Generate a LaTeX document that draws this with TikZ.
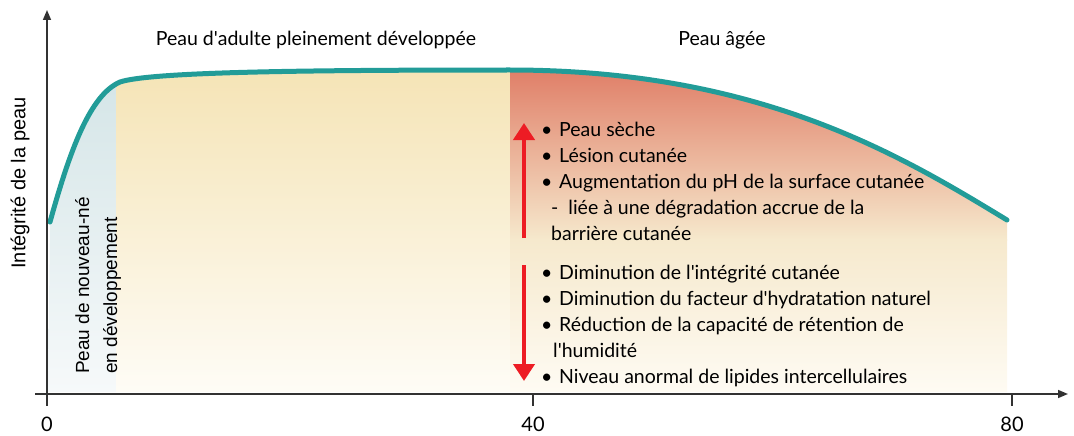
\documentclass[tikz,border=0pt]{standalone}
\usepackage{fontspec}
\setmainfont{Lato}
\newfontfamily\arialfont{Liberation Sans}
\usetikzlibrary{arrows.meta}
\definecolor{tealline}{RGB}{34,156,152}
\definecolor{redarrow}{RGB}{237,28,36}
\definecolor{axisgray}{RGB}{50,50,50}
\definecolor{babytop}{RGB}{212,229,231}
\definecolor{babybot}{RGB}{246,249,250}
\definecolor{adulttop}{RGB}{245,228,182}
\definecolor{adultbot}{RGB}{254,252,246}
\definecolor{oldtop}{RGB}{224,127,104}
\definecolor{oldmid}{RGB}{238,188,160}
\definecolor{oldlow}{RGB}{246,233,205}
\definecolor{oldbot}{RGB}{254,251,243}
\tikzset{
    curveline/.style={draw=tealline, line width=5pt, line cap=round},
    axisline/.style={draw=axisgray, line width=1.5pt, -{Triangle[length=10pt,width=8pt]}},
    tickline/.style={draw=axisgray, line width=1.2pt},
    trend/.style={draw=redarrow, line width=4pt, -{Triangle[length=17pt,width=21pt]}},
    phase/.style={font=\fontsize{19.5}{22}\selectfont},
    ticklabel/.style={font=\fontsize{20}{22}\selectfont},
    bullets/.style={font=\fontsize{19.5}{26}\selectfont, align=left, inner sep=0pt, anchor=north west},
}
\newcommand{\bul}{\makebox[18pt][l]{\textbullet}}
\newcommand{\ap}{\textquotesingle}

\begin{document}
\begin{tikzpicture}[x=1pt,y=-1pt]
    \useasboundingbox (0,0) rectangle (1074,436);

    % areas under the curve
    \begin{scope}
    \clip (48,392) -- (50,222) .. controls (70,150) and (90,95) .. (120,82)
        .. controls (150,72) and (300,70) .. (510,70)
        .. controls (760,70) and (900,155) .. (1007,220) -- (1007,392) -- cycle;
    \shade[top color=babytop, bottom color=babybot] (48,70) rectangle (116,392);
    \shade[top color=adulttop, bottom color=adultbot] (116,70) rectangle (510,392);
    \shade[top color=oldtop, middle color=oldmid, bottom color=oldlow] (510,70) rectangle (1007,240);
    \shade[top color=oldlow, bottom color=oldbot] (510,239.5) rectangle (1007,392);
    \end{scope}

    \draw[curveline] (50,222) .. controls (70,150) and (90,95) .. (120,82)
        .. controls (150,72) and (300,70) .. (510,70)
        .. controls (760,70) and (900,155) .. (1007,220);

    % axes
    \coordinate (o) at (47,394);
    \coordinate (ytop) at (47,10);
    \coordinate (xleft) at (35,394);
    \coordinate (xright) at (1068,394);
    \draw[axisline] (47,398) -- (ytop);
    \draw[axisline] (xleft) -- (xright);
    \foreach \x/\lab in {47/0, 533/40, 1012/80} {
        \draw[tickline] (\x,394) -- (\x,406);
        \node[ticklabel] (t\lab) at (\x,424) {\lab};
    }

    \node[font=\arialfont\fontsize{20}{22}\selectfont, rotate=90] (ylab) at (20,183) {Intégrité de la peau};
    \node[font=\arialfont\fontsize{19}{28}\selectfont, rotate=90, align=left, inner sep=0pt, anchor=north west] (newborn) at (75,374)
        {Peau de nouveau-né\\en développement};

    \node[phase] (adult) at (316,40) {Peau d\ap adulte pleinement développée};
    \node[phase] (aged) at (722,40) {Peau âgée};

    % aged skin lists
    \node[bullets] (incr) at (541,122) {\bul Peau sèche\\
        \bul Lésion cutanée\\
        \bul Augmentation du pH de la surface cutanée\\
        \hspace{10pt}-\ \ liée à une dégradation accrue de la\\
        \hspace{10pt}barrière cutanée};
    \node[bullets] (decr) at (541,265) {\bul Diminution de l\ap intégrité cutanée\\
        \bul Diminution du facteur d\ap hydratation naturel\\
        \bul Réduction de la capacité de rétention de\\
        \hspace{12pt}l\ap humidité\\
        \bul Niveau anormal de lipides intercellulaires};

    \coordinate (upS) at (524,238);
    \coordinate (upE) at (524,123);
    \coordinate (dnS) at (524,265);
    \coordinate (dnE) at (524,381);
    \draw[trend] (upS) -- (upE);
    \draw[trend] (dnS) -- (dnE);
\end{tikzpicture}
\end{document}
